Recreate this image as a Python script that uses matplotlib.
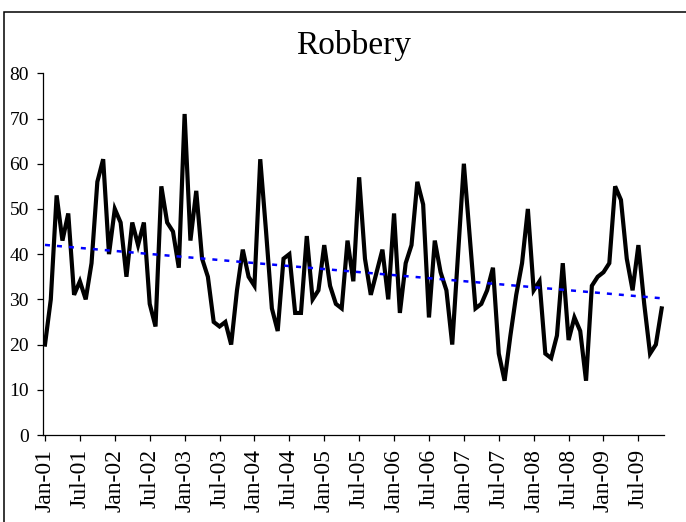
import numpy as np
import matplotlib
matplotlib.use("Agg")
import matplotlib.pyplot as plt
from matplotlib.patches import Rectangle

# monthly robbery counts, Jan-01 .. Nov-09
robbery = [
    20, 30, 53, 43, 49, 31, 34, 30, 38, 56, 61, 40,
    50, 47, 35, 47, 42, 47, 29, 24, 55, 47, 45, 37,
    71, 43, 54, 39, 35, 25, 24, 25, 20, 32, 41, 35,
    33, 61, 45, 28, 23, 39, 40, 27, 27, 44, 30, 32,
    42, 33, 29, 28, 43, 34, 57, 39, 31, 36, 41, 30,
    49, 27, 38, 42, 56, 51, 26, 43, 36, 32, 20, 40,
    60, 44, 28, 29, 32, 37, 18, 12, 22, 31, 38, 50,
    32, 34, 18, 17, 22, 38, 21, 26, 23, 12, 33, 35,
    36, 38, 55, 52, 39, 32, 42, 29, 18, 20, 28,
]
tick_labels = [
    "Jan-01", "Jul-01", "Jan-02", "Jul-02", "Jan-03", "Jul-03",
    "Jan-04", "Jul-04", "Jan-05", "Jul-05", "Jan-06", "Jul-06",
    "Jan-07", "Jul-07", "Jan-08", "Jul-08", "Jan-09", "Jul-09",
]
y_ticks = [0, 10, 20, 30, 40, 50, 60, 70, 80]

plt.rcParams["font.family"] = ["Liberation Serif", "DejaVu Serif"]

x = np.arange(len(robbery))
y = np.array(robbery, dtype=float)
slope, icpt = np.polyfit(x, y, 1)   # Excel-style linear trendline

fig = plt.figure(figsize=(6.86, 5.22), dpi=100)
ax = fig.add_axes([43.3 / 686, 1 - 435 / 522, (664 - 43.3) / 686, (435 - 73.3) / 522])

ax.plot(x, y, color="black", lw=3.0, solid_joinstyle="miter", zorder=3)
ax.plot(x, icpt + slope * x, color="#0000ff", lw=1.8, dashes=(2, 2.8), zorder=4)

ax.set_xlim(-0.29, len(robbery) - 1 + 0.4)
ax.set_ylim(0, 80)
ax.set_yticks(y_ticks)
ax.set_xticks(np.arange(0, 6 * len(tick_labels), 6))
ax.set_xticklabels(tick_labels, rotation=90)
ax.tick_params(axis="y", direction="out", length=4.3, width=0.9, pad=6, labelsize=14)
ax.tick_params(axis="x", direction="out", length=4, width=0.9, pad=6, labelsize=17)
for s in ("top", "right"):
    ax.spines[s].set_visible(False)
for s in ("left", "bottom"):
    ax.spines[s].set_linewidth(0.9)

fig.text(354 / 686, 1 - 45 / 522, "Robbery", ha="center", va="center", fontsize=24)

# chart-area border (only top and left edges fall inside the picture)
fig.patches.append(Rectangle((4 / 686, -0.05), 1.1, 0.05 + 1 - 12 / 522,
                             transform=fig.transFigure, fill=False,
                             edgecolor="black", lw=1.1))

fig.savefig("out.png", dpi=100)
